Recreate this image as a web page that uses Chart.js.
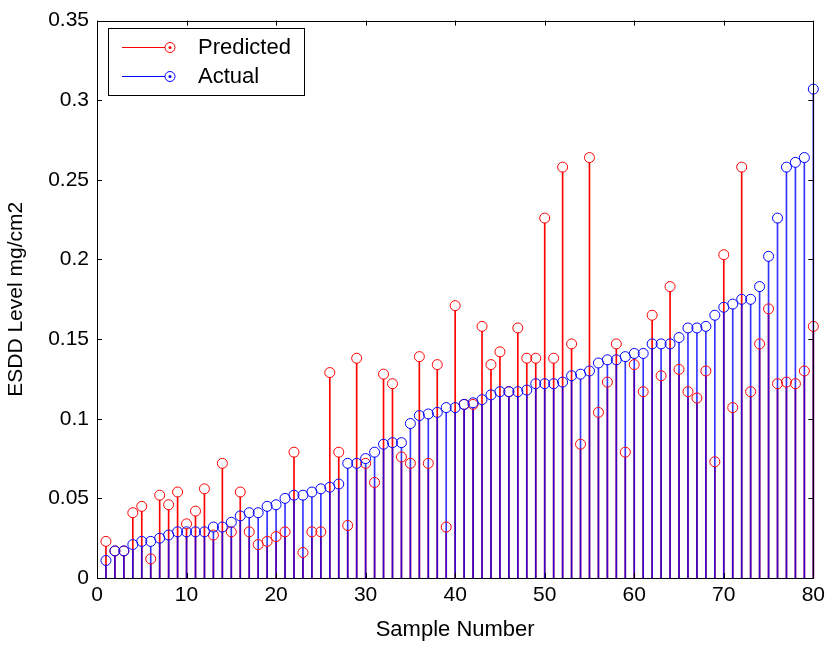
<!DOCTYPE html>
<html>
<head>
<meta charset="utf-8">
<script src="https://cdn.jsdelivr.net/npm/chart.js@4"></script>
<style>
  html, body { margin: 0; padding: 0; background: #fff; }
  #wrap { width: 830px; height: 647px; }
</style>
</head>
<body>
<div id="wrap"><canvas id="stem-chart" width="830" height="647"></canvas></div>
<script>
const seriesNames = ['Predicted', 'Actual'];
const sampleNumbers = Array.from({ length: 80 }, (_, i) => i + 1);
const predicted = [0.023, 0.017, 0.017, 0.041, 0.045, 0.012, 0.052, 0.046, 0.054, 0.034,
    0.042, 0.056, 0.027, 0.072, 0.029, 0.054, 0.029, 0.021, 0.023, 0.026,
    0.029, 0.079, 0.016, 0.029, 0.029, 0.129, 0.079, 0.033, 0.138, 0.072,
    0.060, 0.128, 0.122, 0.076, 0.072, 0.139, 0.072, 0.134, 0.032, 0.171,
    0.109, 0.109, 0.158, 0.134, 0.142, 0.117, 0.157, 0.138, 0.138, 0.226,
    0.138, 0.258, 0.147, 0.084, 0.264, 0.104, 0.123, 0.147, 0.079, 0.134,
    0.117, 0.165, 0.127, 0.183, 0.131, 0.117, 0.113, 0.130, 0.073, 0.203,
    0.107, 0.258, 0.117, 0.147, 0.169, 0.122, 0.123, 0.122, 0.130, 0.158];
const actual = [0.011, 0.017, 0.017, 0.021, 0.023, 0.023, 0.025, 0.027, 0.029, 0.029,
    0.029, 0.029, 0.032, 0.032, 0.035, 0.039, 0.041, 0.041, 0.045, 0.046,
    0.050, 0.052, 0.052, 0.054, 0.056, 0.057, 0.059, 0.072, 0.072, 0.075,
    0.079, 0.084, 0.085, 0.085, 0.097, 0.102, 0.103, 0.104, 0.107, 0.107,
    0.109, 0.110, 0.112, 0.115, 0.117, 0.117, 0.117, 0.118, 0.122, 0.122,
    0.122, 0.123, 0.127, 0.128, 0.130, 0.135, 0.137, 0.137, 0.139, 0.141,
    0.141, 0.147, 0.147, 0.147, 0.151, 0.157, 0.157, 0.158, 0.165, 0.170,
    0.172, 0.175, 0.175, 0.183, 0.202, 0.226, 0.258, 0.261, 0.264, 0.307];
const xTicks = [0, 10, 20, 30, 40, 50, 60, 70, 80];
const yTicks = [0, 0.05, 0.1, 0.15, 0.2, 0.25, 0.3, 0.35];
const yTickLabels = ['0', '0.05', '0.1', '0.15', '0.2', '0.25', '0.3', '0.35'];

const FONT = 'Liberation Sans, Arial, Helvetica, sans-serif';
const RED = '#ff0000';
const BLUE = '#0000ff';
const markerRadius = 5;

function toPoints(values) {
    return values.map((v, i) => ({ x: sampleNumbers[i], y: v }));
}

// stems stop at the bottom of the open circle, like matlab's stem()
const trimStems = {
    id: 'trimStems',
    afterDatasetsUpdate(chart) {
        chart.data.datasets.forEach((ds, i) => {
            if (ds.type !== 'bar') return;
            chart.getDatasetMeta(i).data.forEach(el => {
                if (el.base - el.y > markerRadius) el.y += markerRadius;
            });
        });
    }
};

// matlab style axes box with inward ticks + legend
const matlabFrame = {
    id: 'matlabFrame',
    afterDatasetsDraw(chart) {
        const { ctx, chartArea: a, scales } = chart;
        ctx.save();
        ctx.strokeStyle = '#000';
        ctx.lineWidth = 1;
        ctx.beginPath();
        ctx.rect(Math.round(a.left) + 0.5, Math.round(a.top) + 0.5,
            Math.round(a.right - a.left), Math.round(a.bottom - a.top));
        ctx.stroke();
        ctx.beginPath();
        xTicks.forEach(t => {
            const px = Math.round(scales.x.getPixelForValue(t)) + 0.5;
            ctx.moveTo(px, a.bottom); ctx.lineTo(px, a.bottom - 5);
            ctx.moveTo(px, a.top); ctx.lineTo(px, a.top + 5);
        });
        yTicks.forEach(t => {
            const py = Math.round(scales.y.getPixelForValue(t)) + 0.5;
            ctx.moveTo(a.left, py); ctx.lineTo(a.left + 5, py);
            ctx.moveTo(a.right, py); ctx.lineTo(a.right - 5, py);
        });
        ctx.stroke();
        ctx.restore();
    },
    afterDraw(chart) {
        const { ctx } = chart;
        const box = { left: 108, top: 28, width: 196, height: 67 };
        ctx.save();
        ctx.fillStyle = '#fff';
        ctx.fillRect(box.left, box.top, box.width, box.height);
        ctx.strokeStyle = '#000';
        ctx.lineWidth = 1;
        ctx.strokeRect(box.left + 0.5, box.top + 0.5, box.width, box.height);
        const rows = [
            { name: seriesNames[0], color: RED, y: 47 },
            { name: seriesNames[1], color: BLUE, y: 76 }
        ];
        ctx.font = '22px ' + FONT;
        ctx.textBaseline = 'middle';
        rows.forEach(r => {
            ctx.strokeStyle = r.color;
            ctx.beginPath();
            ctx.moveTo(122, r.y + 0.5);
            ctx.lineTo(165, r.y + 0.5);
            ctx.stroke();
            ctx.beginPath();
            ctx.arc(170, r.y + 0.5, markerRadius, 0, Math.PI * 2);
            ctx.stroke();
            ctx.fillStyle = r.color;
            ctx.beginPath();
            ctx.arc(170, r.y + 0.5, 1.5, 0, Math.PI * 2);
            ctx.fill();
            ctx.fillStyle = '#000';
            ctx.fillText(r.name, 198, r.y + 1);
        });
        ctx.restore();
    }
};

const ctx = document.getElementById('stem-chart').getContext('2d');
new Chart(ctx, {
    type: 'bar',
    data: {
        datasets: [
            {
                type: 'bar', label: 'Predicted stems', data: toPoints(predicted),
                backgroundColor: RED, barThickness: 1, grouped: false, order: 4, clip: false
            },
            {
                type: 'bar', label: 'Actual stems', data: toPoints(actual),
                backgroundColor: 'rgba(0,0,255,0.8)', barThickness: 1, grouped: false, order: 3, clip: false
            },
            {
                type: 'line', label: seriesNames[0], data: toPoints(predicted), showLine: false,
                pointStyle: 'circle', pointRadius: markerRadius, pointBorderWidth: 1,
                pointBorderColor: RED, pointBackgroundColor: 'rgba(0,0,0,0)', order: 2, clip: false
            },
            {
                type: 'line', label: seriesNames[1], data: toPoints(actual), showLine: false,
                pointStyle: 'circle', pointRadius: markerRadius, pointBorderWidth: 1,
                pointBorderColor: BLUE, pointBackgroundColor: 'rgba(0,0,0,0)', order: 1, clip: false
            }
        ]
    },
    options: {
        responsive: false,
        animation: false,
        layout: { padding: { top: 17, right: 15, left: 0, bottom: 0 } },
        plugins: { legend: { display: false }, tooltip: { enabled: false } },
        scales: {
            x: {
                type: 'linear', min: 0, max: 80, offset: false,
                afterBuildTicks: scale => { scale.ticks = xTicks.map(v => ({ value: v })); },
                afterFit: scale => { scale.height = 69; },
                grid: { display: false, drawTicks: false },
                border: { display: false },
                ticks: { color: '#000', font: { family: FONT, size: 21 }, padding: 5, maxRotation: 0 },
                title: { display: true, text: 'Sample Number', color: '#000', font: { family: FONT, size: 22 }, padding: { top: 2 } }
            },
            y: {
                type: 'linear', min: 0, max: 0.35,
                afterBuildTicks: scale => { scale.ticks = yTicks.map(v => ({ value: v })); },
                afterFit: scale => { scale.width = 97; },
                grid: { display: false, drawTicks: false },
                border: { display: false },
                ticks: {
                    color: '#000', font: { family: FONT, size: 21 }, padding: 8,
                    callback: (v) => yTickLabels[yTicks.indexOf(v)] ?? ''
                },
                title: { display: true, text: 'ESDD Level mg/cm2', color: '#000', font: { family: FONT, size: 21 }, padding: { top: 4, bottom: 0 } }
            }
        }
    },
    plugins: [trimStems, matlabFrame]
});
</script>
</body>
</html>
